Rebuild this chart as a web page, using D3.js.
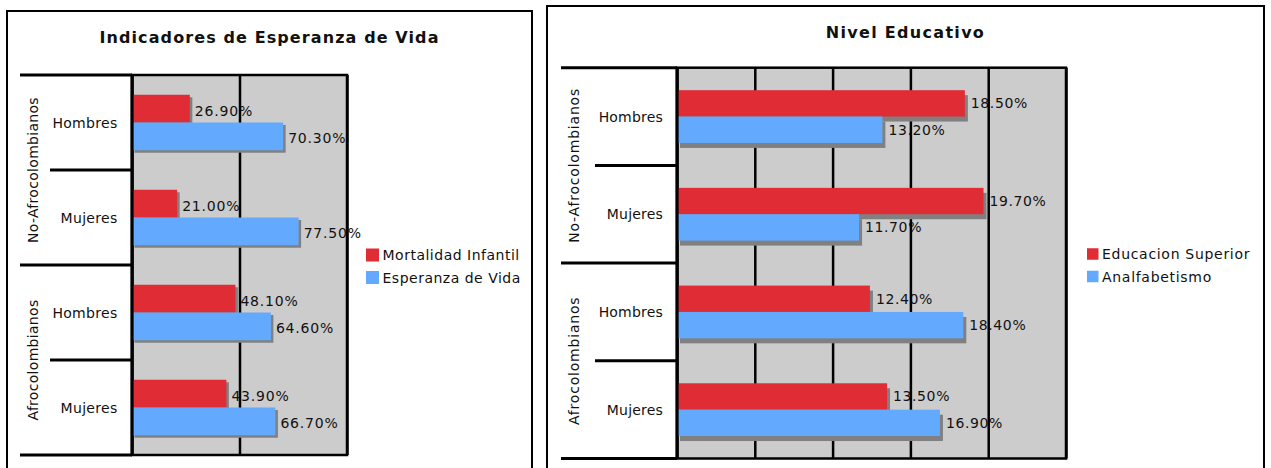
<!DOCTYPE html>
<html>
<head>
<meta charset="utf-8">
<script src="https://cdn.jsdelivr.net/npm/d3@7"></script>
<style>
  html, body { margin: 0; padding: 0; background: #fff; }
  svg { display: block; font-family: "DejaVu Sans", Verdana, sans-serif; }
</style>
</head>
<body>
<svg id="chart" width="1271" height="468"></svg>
<script>
// ---- Data ----
const subCategories = ["Hombres", "Mujeres", "Hombres", "Mujeres"];
const groups = ["No-Afrocolombianos", "Afrocolombianos"];

const leftTitle = "Indicadores de Esperanza de Vida";
const leftSeriesNames = ["Mortalidad Infantil", "Esperanza de Vida"];
const mortalidadInfantil = [26.9, 21.0, 48.1, 43.9];
const esperanzaVida = [70.3, 77.5, 64.6, 66.7];
const leftTicks = [0, 50, 100];

const rightTitle = "Nivel Educativo";
const rightSeriesNames = ["Educacion Superior", "Analfabetismo"];
const educacionSuperior = [18.5, 19.7, 12.4, 13.5];
const analfabetismo = [13.2, 11.7, 18.4, 16.9];
const rightTicks = [0, 5, 10, 15, 20, 25];

const seriesColors = ["#E02D35", "#63AAFF"];

// ---- Drawing ----
const svg = d3.select("#chart");
svg.append("rect").attr("width", 1271).attr("height", 468).attr("fill", "#fff");

function drawPanel(cfg, title, seriesNames, seriesValues, ticks) {
  const g = svg.append("g");
  // panel frame
  g.append("rect")
    .attr("x", cfg.box[0]).attr("y", cfg.box[1])
    .attr("width", cfg.box[2] - cfg.box[0]).attr("height", 500)
    .attr("fill", "#fff").attr("stroke", "#000").attr("stroke-width", 2);
  // title
  g.append("text")
    .attr("x", (cfg.box[0] + cfg.box[2]) / 2).attr("y", cfg.titleY)
    .attr("text-anchor", "middle")
    .attr("font-weight", "bold").attr("font-size", 16)
    .attr("letter-spacing", cfg.titleSpacing)
    .attr("fill", "#111")
    .text(title);

  const [px0, px1, py0, py1] = cfg.plot;
  const x = d3.scaleLinear().domain([ticks[0], ticks[ticks.length - 1]]).range([px0, px1]);
  const y = d3.scaleBand().domain(d3.range(subCategories.length)).range([py0, py1]);
  const ys = d3.scaleBand().domain(d3.range(seriesNames.length))
    .range([y.bandwidth() * cfg.groupPad, y.bandwidth() * (1 - cfg.groupPad)]);

  // plot background
  g.append("rect").attr("x", px0).attr("y", py0)
    .attr("width", px1 - px0).attr("height", py1 - py0).attr("fill", "#CCCCCC");

  // value labels (drawn under gridlines as in the original)
  seriesValues.forEach((vals, si) => {
    g.selectAll(null).data(vals).enter().append("text")
      .attr("x", d => x(d) + cfg.labelDx)
      .attr("y", (d, i) => y(i) + ys(si) + ys.bandwidth() / 2 + cfg.labelDy)
      .attr("dominant-baseline", "central")
      .attr("font-size", cfg.fontSize)
      .attr("letter-spacing", cfg.labelSpacing)
      .attr("fill", "#111")
      .text(d => d.toFixed(2) + "%");
  });

  // gridlines via axis
  const grid = g.append("g").attr("transform", `translate(0,${py0})`)
    .call(d3.axisBottom(x).tickValues(ticks).tickSize(py1 - py0).tickFormat(""));
  grid.select(".domain").remove();
  grid.selectAll(".tick line").attr("stroke", "#000").attr("stroke-width", 2.5);

  // shadows
  seriesValues.forEach((vals, si) => {
    g.selectAll(null).data(vals).enter().append("rect")
      .attr("x", x(0) + cfg.shadow[0])
      .attr("y", (d, i) => y(i) + ys(si) + cfg.shadow[1])
      .attr("width", d => x(d) - x(0))
      .attr("height", ys.bandwidth())
      .attr("fill", "#808080");
  });
  // bars
  seriesValues.forEach((vals, si) => {
    g.selectAll(null).data(vals).enter().append("rect")
      .attr("x", x(0))
      .attr("y", (d, i) => y(i) + ys(si))
      .attr("width", d => x(d) - x(0))
      .attr("height", ys.bandwidth())
      .attr("fill", seriesColors[si]);
  });

  // plot border
  g.append("rect").attr("x", px0).attr("y", py0)
    .attr("width", px1 - px0).attr("height", py1 - py0)
    .attr("fill", "none").attr("stroke", "#000").attr("stroke-width", 2.5);
  g.append("line").attr("x1", px0).attr("x2", px0).attr("y1", py0).attr("y2", py1)
    .attr("stroke", "#000").attr("stroke-width", 3);

  // category axis lines (left side)
  const boundaries = d3.range(subCategories.length + 1).map(i => i < subCategories.length ? y(i) : py1);
  boundaries.forEach((b, i) => {
    const isGroup = i % 2 === 0;
    g.append("line")
      .attr("x1", isGroup ? cfg.groupLineX : cfg.subLineX).attr("x2", px0)
      .attr("y1", b).attr("y2", b)
      .attr("stroke", "#000").attr("stroke-width", 3);
  });

  // sub-category labels
  g.selectAll(null).data(subCategories).enter().append("text")
    .attr("x", cfg.subLabelX)
    .attr("y", (d, i) => y(i) + y.bandwidth() / 2 + cfg.subLabelDy)
    .attr("text-anchor", "end").attr("dominant-baseline", "central")
    .attr("font-size", cfg.fontSize).attr("fill", "#111")
    .attr("letter-spacing", cfg.subSpacing)
    .text(d => d);

  // group labels (rotated)
  g.selectAll(null).data(groups).enter().append("text")
    .attr("transform", (d, i) => {
      const cy = (y(i * 2) + (i * 2 + 2 < subCategories.length ? y(i * 2 + 2) : py1)) / 2;
      return `translate(${cfg.groupLabelX},${cy}) rotate(-90)`;
    })
    .attr("text-anchor", "middle").attr("dominant-baseline", "central")
    .attr("font-size", cfg.fontSize).attr("fill", "#111")
    .attr("letter-spacing", cfg.groupSpacing)
    .text(d => d);

  // legend
  const lg = g.append("g");
  seriesNames.forEach((name, si) => {
    const ly = cfg.legend[1] + si * cfg.legend[3];
    lg.append("rect").attr("x", cfg.legend[0]).attr("y", ly - cfg.legend[2] / 2)
      .attr("width", cfg.legend[2]).attr("height", cfg.legend[2])
      .attr("fill", seriesColors[si]);
    lg.append("text").attr("x", cfg.legend[0] + cfg.legend[2] + 3.5).attr("y", ly)
      .attr("dominant-baseline", "central")
      .attr("font-size", cfg.fontSize).attr("fill", "#111")
      .attr("letter-spacing", cfg.legendSpacing)
      .text(name);
  });
}

drawPanel({
  box: [7, 11, 532], titleY: 43, titleSpacing: 1.1,
  plot: [132, 347, 75, 455], groupPad: 0.208,
  shadow: [2.5, 2.5], labelDx: 5, labelDy: 2, labelSpacing: 0.8,
  fontSize: 14, groupLineX: 20, subLineX: 50, subLabelX: 117.5, subLabelDy: 0, subSpacing: 0.3,
  groupLabelX: 33, groupSpacing: 0.3,
  legend: [366, 255, 13, 22.5], legendSpacing: 0.5
}, leftTitle, leftSeriesNames, [mortalidadInfantil, esperanzaVida], leftTicks);

drawPanel({
  box: [547, 6, 1264], titleY: 38, titleSpacing: 1.3,
  plot: [677, 1066, 67.7, 458.5], groupPad: 0.23,
  shadow: [3, 5], labelDx: 6, labelDy: 0, labelSpacing: 0.6,
  fontSize: 14, groupLineX: 561, subLineX: 595, subLabelX: 663, subLabelDy: 0, subSpacing: 0.2,
  groupLabelX: 574, groupSpacing: 0.8,
  legend: [1087, 254, 11.5, 22.5], legendSpacing: 0.7
}, rightTitle, rightSeriesNames, [educacionSuperior, analfabetismo], rightTicks);
</script>
</body>
</html>
